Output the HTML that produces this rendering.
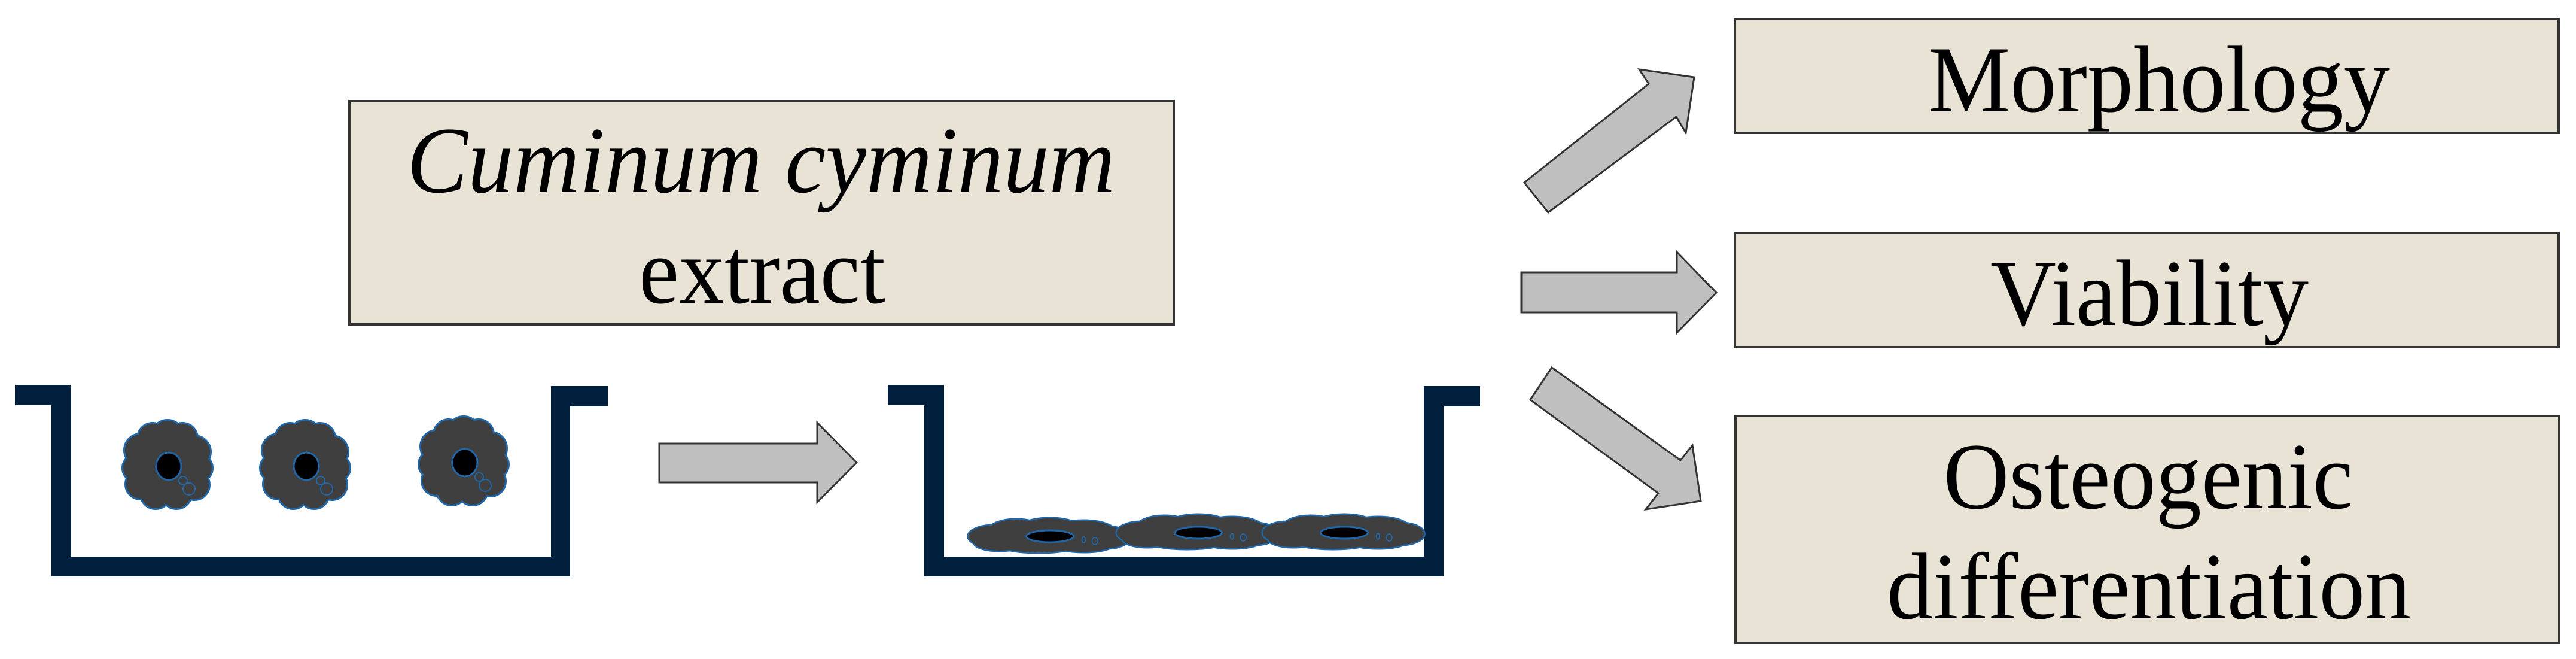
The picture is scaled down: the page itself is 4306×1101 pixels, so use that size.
<!DOCTYPE html>
<html><head><meta charset="utf-8"><style>
html,body{margin:0;padding:0;background:#fff;}
svg{display:block;}
</style></head><body>
<svg width="4306" height="1101" viewBox="0 0 4306 1101" xmlns="http://www.w3.org/2000/svg">
<defs>
<g id="rc">
  <g stroke="#2166a6" stroke-width="6" fill="#3f3f3f">
    <circle cx="0" cy="-48" r="26"/><circle cx="-25" cy="-45" r="24"/><circle cx="25" cy="-45" r="24"/>
    <circle cx="-45" cy="-25" r="26"/><circle cx="45" cy="-22" r="26"/>
    <circle cx="-52" cy="5" r="22"/><circle cx="52" cy="5" r="22"/>
    <circle cx="-45" cy="32" r="24"/><circle cx="45" cy="33" r="24"/>
    <circle cx="-20" cy="48" r="24"/><circle cx="15" cy="48" r="24"/>
  </g>
  <g fill="#3f3f3f">
    <circle cx="0" cy="-48" r="26"/><circle cx="-25" cy="-45" r="24"/><circle cx="25" cy="-45" r="24"/>
    <circle cx="-45" cy="-25" r="26"/><circle cx="45" cy="-22" r="26"/>
    <circle cx="-52" cy="5" r="22"/><circle cx="52" cy="5" r="22"/>
    <circle cx="-45" cy="32" r="24"/><circle cx="45" cy="33" r="24"/>
    <circle cx="-20" cy="48" r="24"/><circle cx="15" cy="48" r="24"/>
    <circle cx="0" cy="0" r="52"/>
  </g>
  <ellipse cx="2" cy="2" rx="21" ry="23" fill="#000" stroke="#2166a6" stroke-width="3"/>
  <circle cx="26" cy="26" r="7" fill="none" stroke="#2166a6" stroke-width="2"/>
  <circle cx="36" cy="40" r="10" fill="none" stroke="#2166a6" stroke-width="2"/>
</g>
<g id="fc">
  <g stroke="#2166a6" stroke-width="5" fill="#3f3f3f">
    <ellipse cx="-100" cy="0" rx="45" ry="18"/><ellipse cx="-60" cy="-8" rx="50" ry="20"/>
    <ellipse cx="0" cy="-12" rx="55" ry="18"/><ellipse cx="60" cy="-8" rx="55" ry="18"/>
    <ellipse cx="100" cy="2" rx="42" ry="18"/><ellipse cx="60" cy="12" rx="55" ry="14"/>
    <ellipse cx="-20" cy="14" rx="70" ry="13"/><ellipse cx="-90" cy="10" rx="45" ry="14"/>
  </g>
  <g fill="#3f3f3f">
    <ellipse cx="-100" cy="0" rx="45" ry="18"/><ellipse cx="-60" cy="-8" rx="50" ry="20"/>
    <ellipse cx="0" cy="-12" rx="55" ry="18"/><ellipse cx="60" cy="-8" rx="55" ry="18"/>
    <ellipse cx="100" cy="2" rx="42" ry="18"/><ellipse cx="60" cy="12" rx="55" ry="14"/>
    <ellipse cx="-20" cy="14" rx="70" ry="13"/><ellipse cx="-90" cy="10" rx="45" ry="14"/>
    <ellipse cx="0" cy="0" rx="120" ry="20"/>
  </g>
  <ellipse cx="0" cy="0" rx="42" ry="10" fill="#000" stroke="#2166a6" stroke-width="3"/>
  <ellipse cx="60" cy="6" rx="3" ry="5" fill="none" stroke="#2166a6" stroke-width="2"/>
  <ellipse cx="80" cy="8" rx="5" ry="6" fill="none" stroke="#2166a6" stroke-width="2"/>
</g>
</defs>

<!-- Dish 1 -->
<path d="M25,643 H119 V930 H921 V645 H1016 V679 H953 V963 H86 V677 H25 Z" fill="#001f3d"/>
<use href="#rc" x="280" y="777"/>
<use href="#rc" x="510" y="777"/>
<use href="#rc" x="775" y="771"/>

<!-- Dish 2 -->
<path d="M1484,643 H1578 V930 H2380 V645 H2474 V679 H2413 V963 H1545 V677 H1484 Z" fill="#001f3d"/>
<g transform="translate(1755,896) scale(0.94,1)"><use href="#fc"/></g>
<g transform="translate(2003,890) scale(0.94,1)"><use href="#fc"/></g>
<g transform="translate(2247,890) scale(0.94,1)"><use href="#fc"/></g>

<!-- Extract box -->
<rect x="584" y="169" width="1378" height="373" fill="#e8e3d5" stroke="#333" stroke-width="4"/>
<text x="1272" y="321" font-family="Liberation Serif, serif" font-style="italic" font-size="158" text-anchor="middle" textLength="1184" lengthAdjust="spacingAndGlyphs">Cuminum cyminum</text>
<text x="1274" y="506" font-family="Liberation Serif, serif" font-size="158" text-anchor="middle" textLength="412" lengthAdjust="spacingAndGlyphs">extract</text>

<!-- Middle arrow -->
<polygon points="1102,741 1366,741 1366,706 1432,773 1366,839 1366,806 1102,806" fill="#bfbfbf" stroke="#333" stroke-width="3"/>

<!-- Right arrows -->
<polygon points="2548,305 2756,140 2740,116 2832,129 2818,222 2802,195 2588,355" fill="#bfbfbf" stroke="#333" stroke-width="3"/>
<polygon points="2543,455 2803,455 2803,421 2869,489 2803,556 2803,522 2543,522" fill="#bfbfbf" stroke="#333" stroke-width="3"/>
<polygon points="2594,614 2809,769 2829,744 2843,837 2751,851 2772,824 2558,668" fill="#bfbfbf" stroke="#333" stroke-width="3"/>

<!-- Right boxes -->
<rect x="2900" y="32" width="1377" height="190" fill="#e8e3d5" stroke="#333" stroke-width="4"/>
<text x="3609" y="186" font-family="Liberation Serif, serif" font-size="158" text-anchor="middle" textLength="772" lengthAdjust="spacingAndGlyphs">Morphology</text>
<rect x="2900" y="389" width="1377" height="191" fill="#e8e3d5" stroke="#333" stroke-width="4"/>
<text x="3593" y="543" font-family="Liberation Serif, serif" font-size="158" text-anchor="middle" textLength="532" lengthAdjust="spacingAndGlyphs">Viability</text>
<rect x="2901" y="695" width="1377" height="379" fill="#e8e3d5" stroke="#333" stroke-width="4"/>
<text x="3591" y="849" font-family="Liberation Serif, serif" font-size="158" text-anchor="middle" textLength="685" lengthAdjust="spacingAndGlyphs">Osteogenic</text>
<text x="3592" y="1033" font-family="Liberation Serif, serif" font-size="158" text-anchor="middle" textLength="876" lengthAdjust="spacingAndGlyphs">differentiation</text>
</svg>
</body></html>
